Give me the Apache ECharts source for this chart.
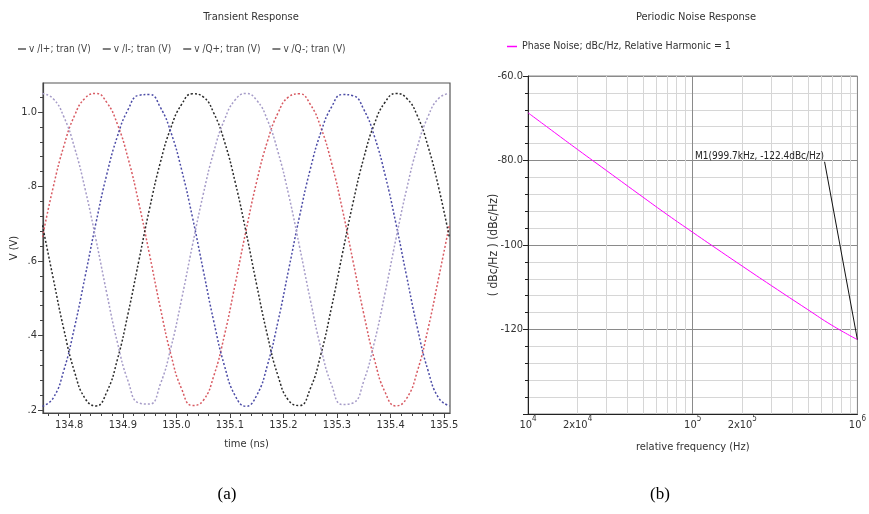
<!DOCTYPE html>
<html><head><meta charset="utf-8">
<script src="https://cdn.jsdelivr.net/npm/echarts@6/dist/echarts.min.js"></script>
<style>html,body{margin:0;padding:0;background:#fff}#c{width:869px;height:514px}</style>
</head><body><div id="c"></div>
<script>
// ---- (a) Transient Response ----
const times = [134.75,134.77,134.79,134.81,134.83,134.85,134.87,134.89,134.91,134.93,
  134.95,134.97,134.99,135.01,135.03,135.05,135.07,135.09,135.11,135.13,
  135.15,135.17,135.19,135.21,135.23,135.25,135.27,135.29,135.31,135.33,
  135.35,135.37,135.39,135.41,135.43,135.45,135.47,135.49,135.51];
const vIplus = [0.664,0.798,0.909,0.991,1.038,1.050,1.026,0.967,0.875,0.755,
  0.617,0.475,0.348,0.256,0.212,0.225,0.292,0.402,0.539,0.681,
  0.813,0.921,0.998,1.041,1.049,1.021,0.958,0.862,0.739,0.599,
  0.458,0.335,0.247,0.211,0.231,0.304,0.418,0.556,0.698];
const vIminus = [0.696,0.554,0.416,0.302,0.230,0.211,0.248,0.336,0.460,0.601,
  0.741,0.864,0.959,1.021,1.049,1.041,0.997,0.920,0.811,0.679,
  0.536,0.401,0.291,0.225,0.212,0.257,0.350,0.477,0.619,0.757,
  0.877,0.969,1.027,1.050,1.037,0.990,0.908,0.796,0.662];
const vQplus = [0.210,0.232,0.307,0.423,0.561,0.703,0.832,0.935,1.007,1.045,
  1.047,1.013,0.945,0.844,0.718,0.577,0.437,0.318,0.238,0.210,
  0.239,0.320,0.439,0.579,0.720,0.846,0.946,1.014,1.047,1.044,
  1.007,0.934,0.830,0.701,0.559,0.421,0.306,0.232,0.211];
const vQminus = [1.050,1.036,0.987,0.904,0.791,0.657,0.514,0.381,0.277,0.219,
  0.216,0.269,0.368,0.499,0.642,0.778,0.894,0.980,1.033,1.050,
  1.032,0.979,0.892,0.776,0.639,0.497,0.366,0.267,0.215,0.219,
  0.278,0.383,0.516,0.659,0.793,0.906,0.988,1.037,1.050];
const seriesNamesA = ['v /I+; tran (V)','v /I-; tran (V)','v /Q+; tran (V)','v /Q-; tran (V)'];
const timeTicks = [134.8,134.9,135.0,135.1,135.2,135.3,135.4,135.5];
const voltTicks = [0.2,0.4,0.6,0.8,1.0];

// ---- (b) Periodic Noise Response ----
const freqs = [10000,15000,20000,30000,50000,70000,100000,150000,200000,300000,500000,700000,999700];
const phaseNoise = [-68.7,-73.8,-77.4,-82.4,-88.7,-92.8,-97.0,-101.7,-105.0,-109.6,-115.3,-119.0,-122.4];
const freqLabelTicks = [10000,20000,100000,200000,1000000];
const freqMajorTicks = [10000,100000,1000000];
const freqMinorTicks = [20000,30000,40000,50000,60000,70000,80000,90000,200000,300000,400000,500000,600000,700000,800000,900000];
const markerText = 'M1(999.7kHz, -122.4dBc/Hz)';

const FONT = '"Liberation Sans Narrow","DejaVu Sans Condensed","Arial Narrow",sans-serif';

const timeMinor = [];
for (let k = 0; k < 38; k++) { const v = Math.round((134.76 + 0.02 * k) * 100) / 100; if (Math.round(v * 100) % 10 !== 0) timeMinor.push(v); }
const voltMinor = [];
for (let k = 0; k < 22; k++) { const v = Math.round((0.20 + 0.04 * k) * 100) / 100; if (v <= 1.078 && Math.round(v * 100) % 20 !== 0) voltMinor.push(v); }

const colorsA = ['#d85a62', '#2a2a2a', '#4b4ba6', '#a69cc8'];
const arraysA = [vIplus, vIminus, vQplus, vQminus];

const chart = echarts.init(document.getElementById('c'), null, {renderer: 'canvas'});
const xMin = 134.751, xMax = 135.511, yMin = 0.192, yMax = 1.078;

const seriesA = arraysA.map((arr, si) => ({
  name: seriesNamesA[si], type: 'line', xAxisIndex: 0, yAxisIndex: 0,
  data: times.map((t, i) => [t, arr[i]]),
  smooth: true, showSymbol: false, symbol: 'none',
  lineStyle: {color: colorsA[si], width: 1.5, type: [2, 2]},
  itemStyle: {color: colorsA[si]}
}));

const option = {
  animation: false,
  backgroundColor: '#fff',
  textStyle: {fontFamily: FONT},
  title: [
    {text: 'Transient Response', left: 246, top: 7, textAlign: 'center', textStyle: {fontSize: 11, fontWeight: 'normal', color: '#333', fontFamily: FONT}},
    {text: 'Periodic Noise Response', left: 691, top: 7, textAlign: 'center', textStyle: {fontSize: 11, fontWeight: 'normal', color: '#333', fontFamily: FONT}},
    {text: '(a)', left: 222, top: 481, textAlign: 'center', textStyle: {fontSize: 17, fontWeight: 'normal', color: '#000', fontFamily: '"Liberation Serif","DejaVu Serif",serif'}},
    {text: '(b)', left: 655, top: 481, textAlign: 'center', textStyle: {fontSize: 17, fontWeight: 'normal', color: '#000', fontFamily: '"Liberation Serif","DejaVu Serif",serif'}}
  ],
  legend: [
    {data: seriesNamesA, left: 13, top: 39, icon: 'rect', itemWidth: 8, itemHeight: 1.5, itemGap: 12,
      itemStyle: {color: '#555'}, textStyle: {fontSize: 10, color: '#444', fontFamily: FONT, padding: [0,0,0,-2]}},
    {data: ['Phase Noise; dBc/Hz, Relative Harmonic = 1'], left: 502, top: 36, icon: 'rect', itemWidth: 10, itemHeight: 1.5,
      textStyle: {fontSize: 10.5, color: '#333', fontFamily: FONT}}
  ],
  grid: [
    {left: 43, top: 83, width: 407, height: 330, show: true, borderColor: '#555', borderWidth: 1.2, containLabel: false},
    {left: 528, top: 76, width: 332, height: 338, show: true, borderColor: '#888', borderWidth: 1, containLabel: false}
  ],
  xAxis: [
    {gridIndex: 0, type: 'value', position: 'bottom', min: xMin, max: xMax,
      name: 'time (ns)', nameLocation: 'middle', nameGap: 26, nameTextStyle: {fontSize: 11, color: '#333'},
      axisLine: {show: true, lineStyle: {color: '#444', width: 1.2}},
      axisTick: {show: true, customValues: timeTicks, length: 5, lineStyle: {color: '#444'}},
      axisLabel: {customValues: timeTicks, formatter: v => v.toFixed(1), fontSize: 11, color: '#333', margin: 7},
      splitLine: {show: false}},
    {gridIndex: 0, type: 'value', position: 'bottom', min: xMin, max: xMax,
      axisLine: {show: false}, axisLabel: {show: false}, splitLine: {show: false},
      axisTick: {show: true, customValues: timeMinor, length: 3, lineStyle: {color: '#444'}}},
    {gridIndex: 1, type: 'log', position: 'bottom', logBase: 10, min: 10000, max: 1000000,
      axisLine: {show: false}, axisLabel: {show: false},
      axisTick: {show: false, customValues: freqMinorTicks},
      splitLine: {show: true, lineStyle: {color: '#d6d6d6', width: 1}}},
    {gridIndex: 1, type: 'log', position: 'bottom', logBase: 10, min: 10000, max: 1000000,
      name: 'relative frequency (Hz)', nameLocation: 'middle', nameGap: 28, nameTextStyle: {fontSize: 11, color: '#333'},
      axisLine: {show: true, lineStyle: {color: '#222', width: 1}},
      axisTick: {show: false, customValues: freqMajorTicks},
      splitLine: {show: true, lineStyle: {color: '#8a8a8a', width: 1}},
      axisLabel: {customValues: freqLabelTicks, margin: 1, color: '#333',
        formatter: v => { const e = Math.round(Math.log10(v)); const m = Math.round(v / Math.pow(10, e)); return '{b|' + (m === 1 ? '' : m + 'x') + '10}{s|' + e + '}'; },
        rich: {b: {fontSize: 11, color: '#333', lineHeight: 16, verticalAlign: 'bottom', fontFamily: FONT}, s: {fontSize: 8, color: '#333', lineHeight: 16, verticalAlign: 'top', fontFamily: FONT}}}}
  ],
  yAxis: [
    {gridIndex: 0, type: 'value', position: 'left', min: yMin, max: yMax,
      name: 'V (V)', nameLocation: 'middle', nameGap: 23, nameRotate: 90, nameMoveOverlap: false, nameTextStyle: {fontSize: 11, color: '#333'},
      axisLine: {show: true, lineStyle: {color: '#444', width: 1.2}},
      axisTick: {show: true, customValues: voltTicks, length: 5, lineStyle: {color: '#444'}},
      axisLabel: {customValues: voltTicks, formatter: v => (Math.abs(v - 1) < 1e-9 ? '1.0' : '.' + Math.round(v * 10)), fontSize: 11, color: '#333', margin: 6},
      splitLine: {show: false}},
    {gridIndex: 0, type: 'value', position: 'left', min: yMin, max: yMax,
      axisLine: {show: false}, axisLabel: {show: false}, splitLine: {show: false},
      axisTick: {show: true, customValues: voltMinor, length: 3, lineStyle: {color: '#444'}}},
    {gridIndex: 1, type: 'value', position: 'left', min: -140, max: -60, interval: 20,
      name: '( dBc/Hz ) (dBc/Hz)', nameLocation: 'middle', nameGap: 28, nameRotate: 90, nameMoveOverlap: false, nameTextStyle: {fontSize: 12, color: '#333'},
      axisLine: {show: true, lineStyle: {color: '#222', width: 1}},
      axisTick: {show: true, length: 5, lineStyle: {color: '#222'}},
      minorTick: {show: true, splitNumber: 5, length: 3, lineStyle: {color: '#222'}},
      splitLine: {show: true, lineStyle: {color: '#8a8a8a', width: 1}},
      minorSplitLine: {show: true, lineStyle: {color: '#d6d6d6', width: 1}},
      axisLabel: {fontSize: 11, color: '#333', margin: 5,
        formatter: v => (v <= -140 ? '' : (v > -100 ? v.toFixed(1) : String(v)))}}
  ],
  series: seriesA.concat([
    {name: 'Phase Noise; dBc/Hz, Relative Harmonic = 1', type: 'line', xAxisIndex: 3, yAxisIndex: 2,
      data: freqs.map((f, i) => [f, phaseNoise[i]]),
      smooth: true, showSymbol: false, symbol: 'none',
      lineStyle: {color: '#ff00ff', width: 1}, itemStyle: {color: '#ff00ff'},
      markLine: {silent: true, symbol: ['none', 'none'], animation: false,
        lineStyle: {color: '#111', width: 1, type: 'solid'}, label: {show: false},
        data: [[{coord: [632000, -80.3]}, {coord: [999700, -122.4]}]]},
      markPoint: {silent: true, animation: false,
        data: [{coord: [632000, -80.3], symbol: 'circle', symbolSize: 1, itemStyle: {color: 'rgba(0,0,0,0)'},
          label: {show: true, position: 'left', distance: 0, offset: [0, -5], formatter: markerText, fontSize: 10, color: '#222', fontFamily: FONT}}]}}
  ])
};
chart.setOption(option);
</script>
</body></html>
